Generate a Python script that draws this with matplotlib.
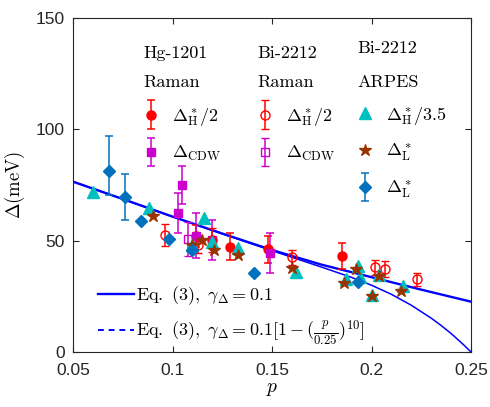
import numpy as np
import matplotlib
matplotlib.use('Agg')
import matplotlib.pyplot as plt
from matplotlib.lines import Line2D
from matplotlib.font_manager import FontProperties
from matplotlib.legend_handler import HandlerErrorbar
from matplotlib.container import ErrorbarContainer

plt.rcParams['mathtext.fontset'] = 'cm'
plt.rcParams['font.family'] = ['Liberation Sans', 'DejaVu Sans']

# ---------------- data ----------------
# theory: Eq. (3), gamma = 0.1
p_theory = [0.05, 0.075, 0.1, 0.125, 0.15, 0.175, 0.2, 0.225, 0.25]
gap_theory = [76.5, 68.7, 60.8, 53.2, 45.8, 39.2, 33.6, 28.0, 22.6]
# theory: Eq. (3), gamma = 0.1[1-(p/0.25)^10]
p_theory_cut = [0.05, 0.075, 0.1, 0.125, 0.15, 0.175, 0.19, 0.2, 0.21, 0.22,
                0.23, 0.235, 0.24, 0.245, 0.2475, 0.25]
gap_theory_cut = [76.5, 68.7, 60.8, 53.1, 45.5, 38.1, 33.5, 30.0, 25.9, 21.0,
                  15.2, 11.9, 8.3, 4.3, 2.2, 0.0]

# Hg-1201 Raman, Delta*_H/2
p_hg_h = [0.112, 0.129, 0.148, 0.185]
d_hg_h = [52.0, 47.3, 46.1, 43.1]
e_hg_h = [5.0, 6.0, 6.0, 6.0]
# Hg-1201 Raman, Delta_CDW
p_hg_cdw = [0.103, 0.105, 0.112, 0.120, 0.149]
d_hg_cdw = [62.6, 75.0, 52.3, 50.3, 44.3]
e_hg_cdw = [9.0, 8.7, 10.0, 9.2, 9.0]
# Bi-2212 Raman, Delta*_H/2
p_bi_h = [0.096, 0.113, 0.120, 0.160, 0.202, 0.207, 0.223]
d_bi_h = [52.5, 48.0, 50.3, 42.5, 38.0, 37.1, 32.6]
e_bi_h = [5.0, 3.7, 5.2, 3.5, 3.2, 3.6, 3.0]
# Bi-2212 Raman, Delta_CDW
p_bi_cdw = [0.108]
d_bi_cdw = [50.7]
e_bi_cdw = [7.5]
# Bi-2212 ARPES, Delta*_H/3.5
p_arpes_h = [0.060, 0.088, 0.110, 0.116, 0.120, 0.133, 0.162, 0.187, 0.193,
             0.194, 0.200, 0.204, 0.216]
d_arpes_h = [71.7, 64.5, 48.0, 60.0, 49.5, 46.6, 36.1, 32.6, 38.6,
             33.5, 25.6, 34.6, 29.6]
# Bi-2212 ARPES, Delta*_L (stars)
p_arpes_l = [0.090, 0.110, 0.115, 0.121, 0.133, 0.160, 0.186, 0.192, 0.200,
             0.204, 0.215]
d_arpes_l = [61.2, 48.2, 50.4, 46.0, 43.7, 37.9, 30.8, 37.1, 25.3, 34.1, 27.5]
# Bi-2212 ARPES, Delta*_L (diamonds)
p_arpes_l2 = [0.068, 0.076, 0.084, 0.098, 0.110, 0.141, 0.193]
d_arpes_l2 = [81.4, 69.5, 59.0, 50.7, 45.8, 35.6, 31.6]
e_lo_arpes_l2 = [10.9, 10.0, 0, 0, 0, 0, 0]
e_hi_arpes_l2 = [15.6, 10.3, 0, 0, 0, 0, 0]

xticks = [0.05, 0.1, 0.15, 0.2, 0.25]
xtick_labels = ['0.05', '0.1', '0.15', '0.2', '0.25']
yticks = [0, 50, 100, 150]

# ---------------- colours ----------------
RED = '#FF0000'
MAG = '#CC00CC'
CYAN = '#00BFBF'
BROWN = '#993300'
BLUE_D = '#0072BD'
BLUE = '#0000FF'
AXC = '#262626'

fig = plt.figure(figsize=(4.9, 4.07), dpi=100)
ax = fig.add_axes([73/490, 55/407, 398/490, 334/407])

# theory lines
l_solid, = ax.plot(p_theory, gap_theory, '-', color=BLUE, lw=1.7, zorder=2)
ax.plot(p_theory_cut, gap_theory_cut, '-', color=BLUE, lw=1.1, zorder=2)

eb_kw = dict(capsize=3, elinewidth=1.1, capthick=1.1, linestyle='none', zorder=3)

h_hg_h = ax.errorbar(p_hg_h, d_hg_h, yerr=e_hg_h, fmt='o', color=RED,
                     mfc=RED, mec=RED, ms=6.5, **eb_kw)
h_hg_cdw = ax.errorbar(p_hg_cdw, d_hg_cdw, yerr=e_hg_cdw, fmt='s', color=MAG,
                       mfc=MAG, mec=MAG, ms=5.5, **eb_kw)
h_bi_h = ax.errorbar(p_bi_h, d_bi_h, yerr=e_bi_h, fmt='o', color=RED,
                     mfc='none', mec=RED, mew=1.0, ms=6.5, **eb_kw)
h_bi_cdw = ax.errorbar(p_bi_cdw, d_bi_cdw, yerr=e_bi_cdw, fmt='s', color=MAG,
                       mfc='none', mec=MAG, mew=1.0, ms=5.5, **eb_kw)
h_arpes_h, = ax.plot(p_arpes_h, d_arpes_h, '^', color=CYAN, ms=8,
                     linestyle='none', zorder=4)
h_arpes_l, = ax.plot(p_arpes_l, d_arpes_l, '*', color=BROWN, ms=9,
                     linestyle='none', zorder=5)

pa = np.array(p_arpes_l2); da = np.array(d_arpes_l2)
elo = np.array(e_lo_arpes_l2); ehi = np.array(e_hi_arpes_l2)
m = (elo + ehi) > 0
h_arpes_l2 = ax.errorbar(pa[m], da[m], yerr=[elo[m], ehi[m]], fmt='D',
                         color=BLUE_D, mfc=BLUE_D, mec=BLUE_D, ms=6, **eb_kw)
ax.plot(pa[~m], da[~m], 'D', color=BLUE_D, ms=6, linestyle='none', zorder=5)

# axes styling
ax.set_xlim(0.05, 0.25)
ax.set_ylim(0, 150)
ax.set_xticks(xticks)
ax.set_xticklabels(xtick_labels)
ax.set_yticks(yticks)
ax.tick_params(direction='in', top=True, right=True, length=4, width=0.8,
               colors=AXC, labelsize=12.5)
ax.tick_params(axis='x', pad=8)
ax.tick_params(axis='y', pad=6)
for s in ax.spines.values():
    s.set_color(AXC)
    s.set_linewidth(0.8)
ax.set_xlabel(r'$p$', fontsize=14, labelpad=2)
ax.set_ylabel(r'$\Delta(\mathrm{meV})$', fontsize=13.5, labelpad=6)

# group legends
fs = 13
title_fp = FontProperties(family='cmr10', size=fs)
hmap = {ErrorbarContainer: HandlerErrorbar(yerr_size=0.78)}
leg_kw = dict(loc='upper left', frameon=False, handlelength=0.9,
              handletextpad=0.7, labelspacing=0.9, borderpad=0,
              borderaxespad=0, alignment='left', fontsize=fs,
              title_fontproperties=title_fp, handler_map=hmap)

leg1 = ax.legend([h_hg_h, h_hg_cdw],
                 [r'$\Delta^*_{\rm H}/2$', r'$\Delta_{\rm CDW}$'],
                 title='Hg-1201\nRaman', bbox_to_anchor=(0.176, 0.918), **leg_kw)
leg1.get_title().set_linespacing(2.1)
ax.add_artist(leg1)
leg2 = ax.legend([h_bi_h, h_bi_cdw],
                 [r'$\Delta^*_{\rm H}/2$', r'$\Delta_{\rm CDW}$'],
                 title='Bi-2212\nRaman', bbox_to_anchor=(0.462, 0.918), **leg_kw)
leg2.get_title().set_linespacing(2.1)
ax.add_artist(leg2)
leg3_kw = dict(leg_kw)
leg3_kw['labelspacing'] = 0.82
leg3 = ax.legend([h_arpes_h, h_arpes_l, h_arpes_l2],
                 [r'$\Delta^*_{\rm H}/3.5$', r'$\Delta^*_{\rm L}$', r'$\Delta^*_{\rm L}$'],
                 title='Bi-2212\nARPES', bbox_to_anchor=(0.714, 0.932), **leg3_kw)
leg3.get_title().set_linespacing(2.5)
ax.add_artist(leg3)

# theory legend
proxy_dash = Line2D([], [], color=BLUE, lw=1.4, linestyle=(0, (3, 2.5)))
leg4 = ax.legend([l_solid, proxy_dash],
                 [r'$\mathrm{Eq.\ (3),\ }\gamma_\Delta=0.1$',
                  r'$\mathrm{Eq.\ (3),\ }\gamma_\Delta=0.1[1-(\frac{p}{0.25})^{10}]$'],
                 loc='lower left', bbox_to_anchor=(0.063, 0.015), frameon=False,
                 handlelength=2.0, handletextpad=0.1, labelspacing=0.62,
                 borderpad=0, borderaxespad=0, fontsize=fs)

fig.savefig('out.png', dpi=100)
